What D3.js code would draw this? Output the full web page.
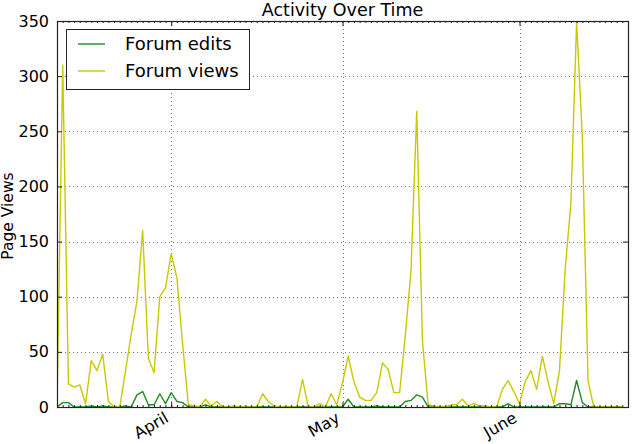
<!DOCTYPE html>
<html><head><meta charset="utf-8">
<script src="https://cdn.jsdelivr.net/npm/d3@7/dist/d3.min.js"></script>
<style>body{margin:0;background:#fff}svg{display:block}text{font-family:"DejaVu Sans",sans-serif;fill:#000}</style>
</head><body><svg id="c" width="635" height="444"></svg>
<script>
const title = "Activity Over Time";
const yLabel = "Page Views";
const startDate = "2014-03-12";
const endDate = "2014-06-20";
const seriesNames = ["Forum edits", "Forum views"];
const seriesColors = ["#1f8c1f", "#c9c900"];
const forumEdits = [0,4,4,0,0,0,1,0,1,0, 0,0,1,0,11,14,2,2,12,3, 13,5,4,0,0,0,2,0,0,0, 0,0,0,0,0,0,0,0,0,0,
  0,0,0,0,0,0,0,0,0,0, 0,7,0,0,0,0,1,0,0,0, 0,5,6,11,9,0,0,0,0,0, 0,0,0,0,0,0,0,0,0,3,
  0,0,0,0,0,0,0,0,3,3, 2,24,4,0,0,0,0,0,0,0];
const forumViews = [0,310,21,18,20,3,42,33,48,5, 0,0,33,66,96,160,44,31,100,108, 139,117,57,2,1,0,7,1,5,0, 0,1,0,0,0,0,12,5,1,0,
  0,0,0,25,0,0,3,0,12,2, 22,46,23,9,6,6,13,40,34,13, 13,65,124,268,60,2,1,0,0,2, 2,7,1,3,1,1,0,0,16,24,
  14,3,23,33,16,46,23,3,33,125, 185,349,245,24,0,0,0,0,0,0];
const yTicks = [0,50,100,150,200,250,300,350];
const monthTicks = ["2014-04-01","2014-05-01","2014-06-01"];
const monthLabels = ["April","May","June"];

const svg = d3.select("#c");
const L = 57, R = 628, T = 21, B = 407;
const parse = d3.utcParse("%Y-%m-%d");
const t0 = parse(startDate), t1 = parse(endDate);
const dates = d3.utcDay.range(t0, d3.utcDay.offset(t0, forumViews.length));
const x = d3.scaleUtc().domain([t0, t1]).range([L, R]);
const y = d3.scaleLinear().domain([0, 350]).range([B, T]);
const mDates = monthTicks.map(parse);

svg.append("defs").append("clipPath").attr("id","clip").append("rect")
  .attr("x", L).attr("y", T).attr("width", R-L).attr("height", B-T);

// grid
const g = svg.append("g");
g.selectAll(".gy").data(yTicks.slice(1,-1)).join("line")
  .attr("x1", L).attr("x2", R).attr("y1", d=>Math.round(y(d))+0.5).attr("y2", d=>Math.round(y(d))+0.5)
  .attr("stroke","#777").attr("stroke-width",1).attr("stroke-dasharray","1,3");
g.selectAll(".gx").data(mDates).join("line")
  .attr("y1", T).attr("y2", B).attr("x1", d=>Math.round(x(d))+0.5).attr("x2", d=>Math.round(x(d))+0.5)
  .attr("stroke","#777").attr("stroke-width",1).attr("stroke-dasharray","1,3");

// series
const line = d3.line().x((d,i)=>x(dates[i])).y(d=>y(d));
const lines = svg.append("g").attr("clip-path","url(#clip)");
[forumEdits, forumViews].forEach((s, k) => {
  lines.append("path").datum(s).attr("d", line).attr("fill","none")
    .attr("stroke", seriesColors[k]).attr("stroke-width",1.4).attr("stroke-linejoin","round");
});

// axes (matplotlib classic style: inward ticks on all sides)
const axBottom = d3.axisBottom(x).tickValues(mDates).tickSize(-5).tickFormat((d,i)=>monthLabels[i]);
const axTop = d3.axisTop(x).tickValues(mDates).tickSize(-5).tickFormat("");
const axLeft = d3.axisLeft(y).tickValues(yTicks).tickSize(-5).tickPadding(8);
const axRight = d3.axisRight(y).tickValues(yTicks).tickSize(-5).tickFormat("");
const minBottom = d3.axisBottom(x).tickValues(dates).tickSize(-2).tickFormat("");
const minTop = d3.axisTop(x).tickValues(dates).tickSize(-2).tickFormat("");

function style(sel){ sel.select(".domain").remove(); sel.selectAll("line").attr("stroke","#222"); }
svg.append("g").attr("transform",`translate(0,${B})`).call(minBottom).call(style);
svg.append("g").attr("transform",`translate(0,${T})`).call(minTop).call(style);
svg.append("g").attr("transform",`translate(0,${T})`).call(axTop).call(style);
svg.append("g").attr("transform",`translate(${R},0)`).call(axRight).call(style);
const gl = svg.append("g").attr("transform",`translate(${L},0)`).call(axLeft).call(style);
gl.selectAll("text").attr("font-size",16).attr("font-family","DejaVu Sans");
const gb = svg.append("g").attr("transform",`translate(0,${B})`).call(axBottom).call(style);
gb.selectAll("text").attr("font-size",16).attr("font-family","DejaVu Sans")
  .attr("text-anchor","end").attr("dy",0).attr("y",0)
  .attr("transform","translate(-2,14) rotate(-30)");

// frame
svg.append("rect").attr("x",L+0.5).attr("y",T+0.5).attr("width",R-L).attr("height",B-T)
  .attr("fill","none").attr("stroke","#222").attr("stroke-width",1.2);

// title and labels
svg.append("text").attr("x",(L+R)/2).attr("y",15.5).attr("text-anchor","middle")
  .attr("font-size",17.5).text(title);
svg.append("text").attr("transform",`translate(13,${(T+B)/2 + 2}) rotate(-90)`)
  .attr("text-anchor","middle").attr("font-size",15.5).text(yLabel);

// legend
const lg = svg.append("g");
lg.append("rect").attr("x",66.5).attr("y",29.5).attr("width",183).attr("height",60)
  .attr("fill","#fff").attr("stroke","#222").attr("stroke-width",1);
seriesNames.forEach((n,k)=>{
  const yy = 44 + k*27;
  lg.append("line").attr("x1",78).attr("x2",105).attr("y1",yy).attr("y2",yy)
    .attr("stroke",seriesColors[k]).attr("stroke-width",1.4);
  lg.append("text").attr("x",125).attr("y",yy).attr("dy","0.36em").attr("font-size",18).text(n);
});
</script></body></html>
